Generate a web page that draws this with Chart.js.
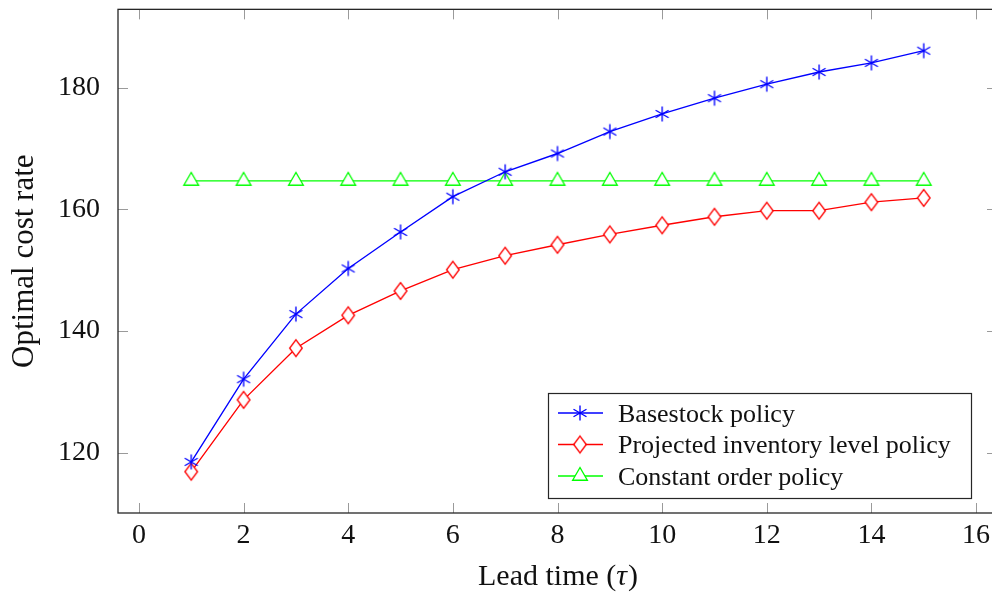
<!DOCTYPE html>
<html><head><meta charset="utf-8">
<script src="https://cdn.jsdelivr.net/npm/chart.js@4.4.0/dist/chart.umd.min.js"></script>
<style>
html,body{margin:0;padding:0;overflow:hidden;background:#fff;width:992px;height:594px}
#wrap{width:992px;height:594px;overflow:hidden}
</style></head>
<body><div id="wrap"><canvas id="c" width="992" height="594" style="width:992px;height:594px"></canvas></div>
<script>
const leadTimes = [1,2,3,4,5,6,7,8,9,10,11,12,13,14,15];
const basestock = [118.5,132.1,142.8,150.3,156.3,162.1,166.2,169.2,172.8,175.7,178.3,180.6,182.6,184.1,186.1];
const projected = [116.9,128.7,137.2,142.6,146.6,150.1,152.4,154.2,155.9,157.4,158.8,159.8,159.8,161.2,161.9];
const constantOrder = [164.7,164.7,164.7,164.7,164.7,164.7,164.7,164.7,164.7,164.7,164.7,164.7,164.7,164.7,164.7];
const xTicks = [0,2,4,6,8,10,12,14,16];
const yTicks = [120,140,160,180];
const seriesNames = ['Basestock policy','Projected inventory level policy','Constant order policy'];
const xTitle = 'Lead time (';
const xTitleSym = 'τ';
const yTitle = 'Optimal cost rate';

const SERIF = '"Liberation Serif", "DejaVu Serif", serif';

function makeMarker(kind, color){
  const c = document.createElement('canvas');
  const s = 22; c.width = s; c.height = s;
  const g = c.getContext('2d');
  g.strokeStyle = color; g.lineWidth = 1.35; g.lineJoin = 'miter';
  const m = s/2;
  g.beginPath();
  if (kind === 'asterisk'){
    const r = 7.5;
    for (let k=0;k<3;k++){
      const a = Math.PI/2 + k*Math.PI/3;
      g.moveTo(m + r*Math.cos(a), m - r*Math.sin(a));
      g.lineTo(m - r*Math.cos(a), m + r*Math.sin(a));
    }
    g.stroke();
  } else if (kind === 'diamond'){
    const w = 6.3, h = 8.4;
    g.moveTo(m, m-h); g.lineTo(m+w, m); g.lineTo(m, m+h); g.lineTo(m-w, m); g.closePath();
    g.fillStyle='#fff'; g.fill(); g.stroke();
  } else {
    const r = 8.5;
    g.moveTo(m, m-r); g.lineTo(m+0.866*r, m+0.5*r); g.lineTo(m-0.866*r, m+0.5*r); g.closePath();
    g.fillStyle='#fff'; g.fill(); g.stroke();
  }
  return c;
}
const colors = ['#0000ff','#ff0000','#00ff00'];
const markers = [makeMarker('asterisk',colors[0]), makeMarker('diamond',colors[1]), makeMarker('triangle',colors[2])];

const PLOT_RIGHT = 997;

const decor = {
  id:'decor',
  afterLayout(chart){
    try {
      const xs = chart.scales.x, a = chart.chartArea;
      xs.right = PLOT_RIGHT; xs.width = PLOT_RIGHT - xs.left;
      xs._endPixel = PLOT_RIGHT; xs._length = PLOT_RIGHT - xs._startPixel;
      a.right = PLOT_RIGHT; a.width = PLOT_RIGHT - a.left;
    } catch(e) {}
  },
  afterDraw(chart){
    const ctx = chart.ctx, a = chart.chartArea;
    const xs = chart.scales.x, ys = chart.scales.y;
    ctx.save();
    // inner ticks
    ctx.strokeStyle = '#9a9a9a'; ctx.lineWidth = 1;
    ctx.beginPath();
    xTicks.forEach(v=>{
      const p = Math.round(xs.getPixelForValue(v))+0.5;
      ctx.moveTo(p, a.bottom); ctx.lineTo(p, a.bottom-10);
      ctx.moveTo(p, a.top); ctx.lineTo(p, a.top+10);
    });
    yTicks.forEach(v=>{
      const p = Math.round(ys.getPixelForValue(v))+0.5;
      ctx.moveTo(a.left, p); ctx.lineTo(a.left+10, p);
      ctx.moveTo(a.right, p); ctx.lineTo(a.right-10, p);
    });
    ctx.stroke();
    // frame
    ctx.strokeStyle = '#262626'; ctx.lineWidth = 1.3;
    ctx.strokeRect(a.left, a.top, a.right-a.left, a.bottom-a.top);
    // legend
    const bx = 548, by = 393, bw = 423, bh = 105;
    ctx.fillStyle = '#fff'; ctx.fillRect(bx, by, bw, bh);
    ctx.strokeStyle = '#262626'; ctx.lineWidth = 1.2;
    ctx.strokeRect(bx+0.5, by+0.5, bw, bh);
    const fs = 26;
    ctx.font = fs + 'px ' + SERIF;
    ctx.textAlign = 'left'; ctx.textBaseline = 'alphabetic';
    seriesNames.forEach((name,i)=>{
      const cy = 413 + i*31.5;
      ctx.strokeStyle = colors[i]; ctx.lineWidth = 1.35;
      ctx.beginPath(); ctx.moveTo(558, cy); ctx.lineTo(603, cy); ctx.stroke();
      const mk = markers[i];
      ctx.drawImage(mk, 580 - mk.width/2, cy - mk.height/2);
      ctx.fillStyle = '#111';
      ctx.fillText(name, 618, cy + 0.33*fs);
    });
    // axis titles
    ctx.fillStyle = '#111';
    const tfs = 30;
    ctx.font = tfs + 'px ' + SERIF;
    const w1 = ctx.measureText(xTitle).width;
    ctx.font = 'italic ' + tfs + 'px ' + SERIF;
    const w2 = ctx.measureText(xTitleSym).width;
    ctx.font = tfs + 'px ' + SERIF;
    const w3 = ctx.measureText(')').width;
    let x0 = (a.left + a.right)/2 - (w1+w2+w3)/2;
    ctx.textAlign = 'left';
    ctx.fillText(xTitle, x0, 585);
    ctx.font = 'italic ' + tfs + 'px ' + SERIF;
    ctx.fillText(xTitleSym, x0 + w1, 585);
    ctx.font = tfs + 'px ' + SERIF;
    ctx.fillText(')', x0 + w1 + w2 + 1, 585);
    ctx.save();
    ctx.translate(33, (a.top + a.bottom)/2);
    ctx.rotate(-Math.PI/2);
    ctx.textAlign = 'center';
    ctx.font = '31px ' + SERIF;
    ctx.fillText(yTitle, 0, 0);
    ctx.restore();
    ctx.restore();
  }
};

function ds(label, data, i){
  return {label, data: data.map((v,j)=>({x: leadTimes[j], y: v})), borderColor: colors[i], backgroundColor: colors[i], borderWidth: 1.35,
    pointStyle: markers[i], pointRadius: 8, pointHoverRadius: 8, tension: 0, fill: false, clip: false};
}

function zeroPad(s){ s.paddingLeft = 0; s.paddingRight = 0; s.paddingTop = 0; s.paddingBottom = 0; }

new Chart(document.getElementById('c'), {
  type: 'line',
  data: {
    labels: leadTimes,
    datasets: [ds(seriesNames[0], basestock, 0), ds(seriesNames[1], projected, 1), ds(seriesNames[2], constantOrder, 2)]
  },
  options: {
    responsive: false, animation: false, events: [],
    layout: {padding: {top: 9, right: 0, left: 0, bottom: 0}},
    plugins: {legend: {display: false}, tooltip: {enabled: false}},
    scales: {
      x: {type: 'linear', min: -0.4, max: 16.4,
        grid: {display: false}, border: {display: false},
        afterBuildTicks: s => { s.ticks = xTicks.map(v=>({value:v})); },
        afterFit: s => { s.height = 81; zeroPad(s); },
        ticks: {padding: -2, color: '#111', font: {family: SERIF, size: 28}, maxRotation: 0, autoSkip: false}
      },
      y: {type: 'linear', min: 110.1, max: 192.9,
        grid: {display: false}, border: {display: false},
        afterBuildTicks: s => { s.ticks = yTicks.map(v=>({value:v})); },
        afterFit: s => { s.width = 118; zeroPad(s); },
        ticks: {padding: 10, color: '#111', font: {family: SERIF, size: 28}, autoSkip: false}
      }
    }
  },
  plugins: [decor]
});
</script>
</body></html>
